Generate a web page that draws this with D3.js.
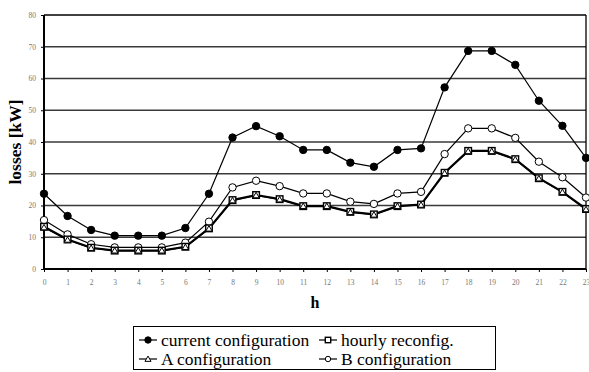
<!DOCTYPE html>
<html>
<head>
<meta charset="utf-8">
<script src="https://cdn.jsdelivr.net/npm/d3@7.9.0/dist/d3.min.js"></script>
<style>
  body { margin: 0; background: #fff; }
  svg text { font-family: "Liberation Serif", "Times New Roman", "DejaVu Serif", serif; }
</style>
</head>
<body>
<svg width="589" height="372"></svg>
<script>
const hours = d3.range(0, 24);
const yTicks = [0, 10, 20, 30, 40, 50, 60, 70, 80];

const current = [23.7, 16.7, 12.3, 10.5, 10.5, 10.5, 12.9, 23.7, 41.4, 45, 41.8, 37.5,
  37.5, 33.5, 32.2, 37.5, 38, 57.2, 68.7, 68.7, 64.3, 53, 45.1, 35];
const hourly = [13.3, 9.3, 6.7, 5.8, 5.8, 5.8, 7, 12.8, 21.7, 23.3, 22, 19.8,
  19.8, 18, 17.2, 19.8, 20.3, 30.3, 37.2, 37.2, 34.6, 28.6, 24.3, 18.9];
const configA = [13.1, 9.2, 6.6, 5.8, 5.8, 5.8, 6.9, 12.7, 21.6, 23.2, 21.9, 19.8,
  19.8, 17.9, 17.1, 19.8, 20.2, 30.2, 37.1, 37.1, 34.5, 28.5, 24.2, 18.8];
const configB = [15.4, 10.9, 7.8, 6.8, 6.8, 6.8, 8.3, 14.9, 25.7, 27.8, 26.1, 23.8,
  23.8, 21.2, 20.5, 23.8, 24.3, 36.2, 44.3, 44.3, 41.3, 33.8, 28.9, 22.5];

const svg = d3.select('svg');
const x = d3.scaleLinear().domain([0, 23]).range([44, 586]);
const y = d3.scaleLinear().domain([0, 80]).range([269, 15]);

// gridlines
svg.append('g')
  .selectAll('line')
  .data(yTicks.filter(d => d > 0))
  .join('line')
  .attr('x1', x(0)).attr('x2', x(23))
  .attr('y1', d => y(d)).attr('y2', d => y(d))
  .attr('stroke', d => d === 80 ? '#000' : '#3a3a3a')
  .attr('stroke-width', d => d === 80 ? 1.5 : 1.4);

// right border
svg.append('line')
  .attr('x1', x(23)).attr('x2', x(23))
  .attr('y1', y(80)).attr('y2', y(0))
  .attr('stroke', '#000').attr('stroke-width', 1.3);

// axes
const yAxis = svg.append('g')
  .attr('transform', `translate(${x(0)},0)`)
  .call(d3.axisLeft(y).tickValues(yTicks).tickSize(3).tickPadding(5));
const xAxis = svg.append('g')
  .attr('transform', `translate(0,${y(0)})`)
  .call(d3.axisBottom(x).tickValues(hours).tickSize(3).tickPadding(8));

[yAxis, xAxis].forEach(g => {
  g.attr('font-family', null);
  g.select('.domain').attr('stroke', '#000').attr('stroke-width', 2);
  g.selectAll('.tick line').attr('stroke', '#000');
  g.selectAll('.tick text')
    .attr('font-size', 7.5)
    .attr('fill', '#777');
});
yAxis.select('.domain').attr('d', `M0,${y(80)}V${y(0)}`);
xAxis.select('.domain').attr('d', `M${x(0)},0H${x(23)}`);

// axis titles
svg.append('text')
  .attr('x', 315).attr('y', 308)
  .attr('text-anchor', 'middle')
  .attr('font-weight', 'bold').attr('font-size', 16)
  .text('h');
svg.append('text')
  .attr('transform', 'translate(21,142) rotate(-90)')
  .attr('text-anchor', 'middle')
  .attr('font-weight', 'bold').attr('font-size', 17.5)
  .text('losses [kW]');

const line = d3.line().x((d, i) => x(i)).y(d => y(d));

const series = [
  { name: 'current configuration', values: current, marker: 'circle', fill: '#000', width: 1.2 },
  { name: 'B configuration', values: configB, marker: 'circle', fill: '#fff', width: 1.2 },
  { name: 'hourly reconfig.', values: hourly, marker: 'square', fill: '#fff', width: 2.2 },
  { name: 'A configuration', values: configA, marker: 'triangle', fill: '#fff', width: 1.2 }
];

function drawMarker(g, type, fill, cx, cy, s) {
  if (type === 'circle') {
    g.append('circle').attr('cx', cx).attr('cy', cy).attr('r', s)
      .attr('fill', fill).attr('stroke', '#000').attr('stroke-width', 1);
  } else if (type === 'square') {
    g.append('rect').attr('x', cx - s).attr('y', cy - s)
      .attr('width', 2 * s).attr('height', 2 * s)
      .attr('fill', fill).attr('stroke', '#000').attr('stroke-width', 1.4);
  } else {
    g.append('path')
      .attr('d', d3.symbol(d3.symbolTriangle, s * s * 2.2)())
      .attr('transform', `translate(${cx},${cy + 0.6})`)
      .attr('fill', fill).attr('stroke', '#000').attr('stroke-width', 1);
  }
}

series.forEach(s => {
  svg.append('path')
    .datum(s.values)
    .attr('d', line)
    .attr('fill', 'none')
    .attr('stroke', '#000')
    .attr('stroke-width', s.width);
});
series.forEach(s => {
  const g = svg.append('g');
  const size = s.marker === 'circle' ? 3.7 : (s.marker === 'square' ? 3.3 : 2.8);
  s.values.forEach((v, i) => drawMarker(g, s.marker, s.fill, x(i), y(v), size));
});

// legend
const legend = svg.append('g');
legend.append('rect')
  .attr('x', 133.5).attr('y', 326.5).attr('width', 362).attr('height', 43)
  .attr('fill', '#fff').attr('stroke', '#000').attr('stroke-width', 1);

const legendItems = [
  { name: 'current configuration', marker: 'circle', fill: '#000', lx: 139, ly: 340 },
  { name: 'hourly reconfig.', marker: 'square', fill: '#fff', lx: 319, ly: 340 },
  { name: 'A configuration', marker: 'triangle', fill: '#fff', lx: 139, ly: 359 },
  { name: 'B configuration', marker: 'circle', fill: '#fff', lx: 319, ly: 359 }
];
legendItems.forEach(d => {
  legend.append('line')
    .attr('x1', d.lx).attr('x2', d.lx + 18)
    .attr('y1', d.ly).attr('y2', d.ly)
    .attr('stroke', '#000').attr('stroke-width', 1.2);
  const ms = d.marker === 'circle' ? (d.fill === '#000' ? 3.2 : 2.7) : 2.7;
  drawMarker(legend, d.marker, d.fill, d.lx + 9, d.ly, ms);
  legend.append('text')
    .attr('x', d.lx + 22).attr('y', d.ly + 5.5)
    .attr('font-size', 17.5)
    .text(d.name);
});
</script>
</body>
</html>
